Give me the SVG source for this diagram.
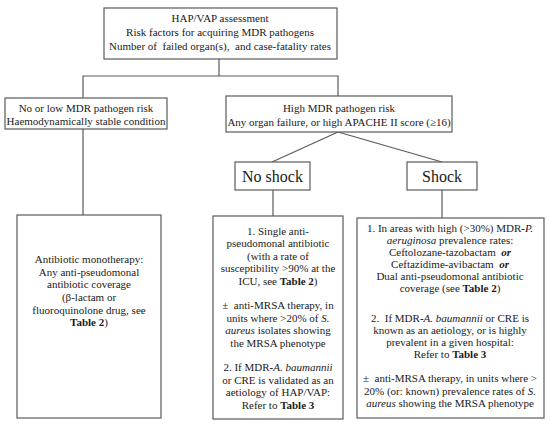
<svg xmlns="http://www.w3.org/2000/svg" width="550" height="427" viewBox="0 0 550 427">
<style>
  .box { fill: #ffffff; stroke: #5a5a5a; stroke-width: 1.2; }
  .ln { fill: none; stroke: #5a5a5a; stroke-width: 1.2; }
  text { font-family: 'Liberation Serif', 'Times New Roman', Times, 'DejaVu Serif', serif; font-size: 11px; fill: #1a1a1a; text-anchor: middle; }
  .big { font-size: 16px; }
  .b { font-weight: bold; }
  .i { font-style: italic; }
  .bi { font-weight: bold; font-style: italic; }
</style>
<rect width="550" height="427" fill="#ffffff"/>
<g id="connectors">
  <polyline class="ln" points="219,59 219,76"/>
  <polyline class="ln" points="83,98 83,76 338,76 338,96"/>
  <line class="ln" x1="83" y1="129" x2="83" y2="215"/>
  <line class="ln" x1="338" y1="132" x2="272" y2="162"/>
  <line class="ln" x1="338" y1="132" x2="442" y2="162"/>
  <line class="ln" x1="273" y1="190" x2="273" y2="216"/>
  <line class="ln" x1="442" y1="190" x2="442" y2="218"/>
</g>
<g id="assessment">
  <rect class="box" x="104" y="8" width="233" height="51"/>
  <text x="220" y="22">HAP/VAP assessment</text>
  <text x="220" y="36">Risk factors for acquiring MDR pathogens</text>
  <text x="220" y="50" xml:space="preserve">Number of  failed organ(s),  and case-fatality rates</text>
</g>
<g id="low-risk">
  <rect class="box" x="5" y="98" width="162" height="31"/>
  <text x="86" y="112">No or low MDR pathogen risk</text>
  <text x="86" y="125">Haemodynamically stable condition</text>
</g>
<g id="high-risk">
  <rect class="box" x="226" y="96" width="226" height="36"/>
  <text x="339" y="112">High MDR pathogen risk</text>
  <text x="339" y="126">Any organ failure, or high APACHE II score (≥16)</text>
</g>
<g id="no-shock">
  <rect class="box" x="235" y="162" width="75" height="28"/>
  <text class="big" x="272.5" y="182">No shock</text>
</g>
<g id="shock">
  <rect class="box" x="407" y="162" width="70" height="28"/>
  <text class="big" x="442" y="182">Shock</text>
</g>
<g id="monotherapy">
  <rect class="box" x="17" y="215" width="144" height="203"/>
  <text x="89" y="263">Antibiotic monotherapy:</text>
  <text x="89" y="276">Any anti-pseudomonal</text>
  <text x="89" y="288">antibiotic coverage</text>
  <text x="89" y="301">(β-lactam or</text>
  <text x="89" y="314">fluoroquinolone drug, see</text>
  <text x="89" y="326"><tspan class="b">Table 2</tspan>)</text>
</g>
<g id="no-shock-therapy">
  <rect class="box" x="213" y="216" width="130" height="203"/>
  <text x="278" y="235">1. Single anti-</text>
  <text x="278" y="247.4">pseudomonal antibiotic</text>
  <text x="278" y="259.8">(with a rate of</text>
  <text x="278" y="272.2">susceptibility &gt;90% at the</text>
  <text x="278" y="284.6">ICU, see <tspan class="b">Table 2</tspan>)</text>
  <text x="278" y="309.4" xml:space="preserve">±  anti-MRSA therapy, in</text>
  <text x="278" y="321.8">units where &gt;20% of <tspan class="i">S.</tspan></text>
  <text x="278" y="334.2"><tspan class="i">aureus</tspan> isolates showing</text>
  <text x="278" y="346.6">the MRSA phenotype</text>
  <text x="278" y="371.4">2. If MDR<tspan class="b">-</tspan><tspan class="i">A. baumannii</tspan></text>
  <text x="278" y="383.8">or CRE is validated as an</text>
  <text x="278" y="396.2">aetiology of HAP/VAP:</text>
  <text x="278" y="408.6">Refer to <tspan class="b">Table 3</tspan></text>
</g>
<g id="shock-therapy">
  <rect class="box" x="357" y="218" width="187" height="200"/>
  <text x="450" y="232">1. In areas with high (&gt;30%) MDR<tspan class="b">-</tspan><tspan class="i">P.</tspan></text>
  <text x="450" y="244"><tspan class="i">aeruginosa</tspan> prevalence rates:</text>
  <text x="450" y="256" xml:space="preserve">Ceftolozane-tazobactam  <tspan class="bi">or</tspan></text>
  <text x="450" y="268" xml:space="preserve">Ceftazidime-avibactam  <tspan class="bi">or</tspan></text>
  <text x="450" y="280">Dual anti-pseudomonal antibiotic</text>
  <text x="450" y="292">coverage (see <tspan class="b">Table 2</tspan>)</text>
  <text x="450" y="322" xml:space="preserve">2.  If MDR<tspan class="b">-</tspan><tspan class="i">A. baumannii</tspan> or CRE is</text>
  <text x="450" y="334">known as an aetiology, or is highly</text>
  <text x="450" y="346">prevalent in a given hospital:</text>
  <text x="450" y="358">Refer to <tspan class="b">Table 3</tspan></text>
  <text x="450" y="382" xml:space="preserve">±  anti-MRSA therapy, in units where &gt;</text>
  <text x="450" y="395">20% (or: known) prevalence rates of <tspan class="i">S.</tspan></text>
  <text x="450" y="407"><tspan class="i">aureus</tspan> showing the MRSA phenotype</text>
</g>
</svg>
